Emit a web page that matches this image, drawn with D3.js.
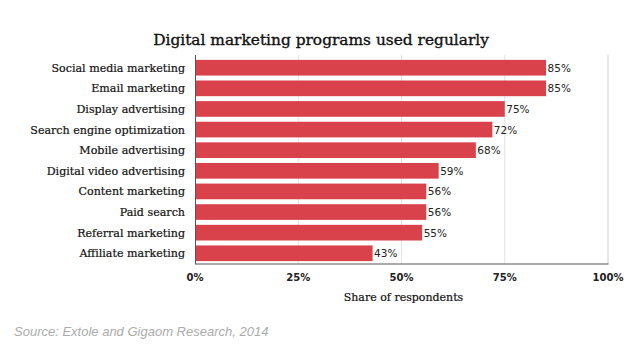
<!DOCTYPE html>
<html><head><meta charset="utf-8">
<script src="https://cdn.jsdelivr.net/npm/d3@7"></script>
<style>body{margin:0;background:#fff}</style>
</head><body>
<script>
const categories = ["Social media marketing","Email marketing","Display advertising","Search engine optimization","Mobile advertising","Digital video advertising","Content marketing","Paid search","Referral marketing","Affiliate marketing"];
const values = [85,85,75,72,68,59,56,56,55,43];
const ticks = [0,25,50,75,100];
const title = "Digital marketing programs used regularly";
const axisTitle = "Share of respondents";
const source = "Source: Extole and Gigaom Research, 2014";

const W=630,H=355;
const svg=d3.select("body").append("svg").attr("width",W).attr("height",H);
const x=d3.scaleLinear().domain([0,100]).range([195,608]);
const y=d3.scaleBand().domain(categories).range([57,264]).paddingInner(0.24).paddingOuter(0.14);
const serif="'DejaVu Serif', serif";
const sans="'DejaVu Sans', sans-serif";

svg.append("text").attr("x",321).attr("y",45).attr("text-anchor","middle")
  .style("font-family",serif).style("font-size","15.4px").attr("fill","#111")
  .attr("stroke","#111").attr("stroke-width",0.35).text(title);

// gridlines
svg.append("g").selectAll("line").data(ticks.slice(1)).join("line")
  .attr("x1",d=>x(d)).attr("x2",d=>x(d)).attr("y1",55).attr("y2",264)
  .attr("stroke",d=>d===100?"#cfcfcf":"#e2e2e2").attr("stroke-width",1);

svg.append("g").selectAll("rect").data(values).join("rect")
  .attr("x",x(0)).attr("y",(d,i)=>y(categories[i])).attr("width",d=>x(d)-x(0))
  .attr("height",y.bandwidth()).attr("fill","#d9414b");

// axes lines
svg.append("line").attr("x1",x(0)+0.5).attr("x2",x(0)+0.5).attr("y1",55).attr("y2",264).attr("stroke","#555");
svg.append("line").attr("x1",x(0)).attr("x2",x(100)+0.5).attr("y1",264).attr("y2",264).attr("stroke","#555");

// category labels
svg.append("g").selectAll("text").data(categories).join("text")
  .attr("x",185).attr("y",d=>y(d)+y.bandwidth()/2+4).attr("text-anchor","end")
  .style("font-family",serif).style("font-size","11.1px").attr("fill","#111")
  .attr("stroke","#111").attr("stroke-width",0.2).text(d=>d);

// value labels
svg.append("g").selectAll("text").data(values).join("text")
  .attr("x",d=>x(d)+1.5).attr("y",(d,i)=>y(categories[i])+y.bandwidth()/2+4)
  .style("font-family",sans).style("font-size","10.5px").attr("fill","#222").text(d=>d+"%");

// tick labels
svg.append("g").selectAll("text").data(ticks).join("text")
  .attr("x",d=>x(d)).attr("y",281).attr("text-anchor","middle")
  .style("font-family",sans).style("font-size","10px").style("font-weight","bold").attr("fill","#222").text(d=>d+"%");

svg.append("text").attr("x",x(50)+2).attr("y",301).attr("text-anchor","middle")
  .style("font-family",serif).style("font-size","11px").attr("fill","#111")
  .attr("stroke","#111").attr("stroke-width",0.2).text(axisTitle);

svg.append("text").attr("x",14).attr("y",336)
  .style("font-family","'Liberation Sans', Arial, sans-serif").style("font-size","13px").style("font-style","italic")
  .attr("fill","#ababab").text(source);
</script>
</body></html>
